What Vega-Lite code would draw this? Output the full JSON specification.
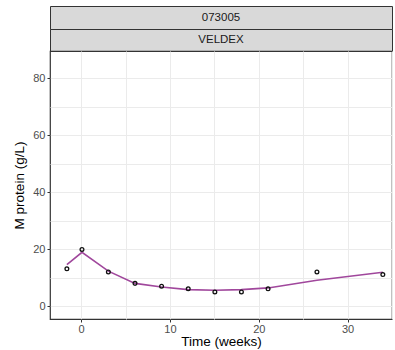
{
  "$schema": "https://vega.github.io/schema/vega-lite/v6.json",
  "padding": {"top": 5, "left": 12, "right": 1, "bottom": 0},
  "background": "white",
  "spacing": 0,
  "bounds": "flush",
  "config": {
    "font": "Liberation Sans",
    "concat": {"spacing": 0}
  },
  "datasets": {
    "strip": [{"id": "073005", "drug": "VELDEX"}],
    "obs": [
      {"time": -1.6, "mprotein": 13.1},
      {"time": 0.1, "mprotein": 19.9},
      {"time": 3.07, "mprotein": 12.0},
      {"time": 6.07, "mprotein": 8.0},
      {"time": 9.06, "mprotein": 7.0},
      {"time": 12.06, "mprotein": 6.1},
      {"time": 15.06, "mprotein": 5.0},
      {"time": 18.05, "mprotein": 5.0},
      {"time": 21.05, "mprotein": 6.1},
      {"time": 26.55, "mprotein": 12.0},
      {"time": 33.97, "mprotein": 11.1}
    ],
    "fit": [
      {"time": -1.6, "pred": 14.6},
      {"time": 0.1, "pred": 18.9},
      {"time": 3.07, "pred": 12.3},
      {"time": 6.07, "pred": 8.0},
      {"time": 9.06, "pred": 6.7},
      {"time": 12.06, "pred": 5.8},
      {"time": 15.06, "pred": 5.6},
      {"time": 18.05, "pred": 5.8},
      {"time": 21.05, "pred": 6.4},
      {"time": 26.55, "pred": 9.1},
      {"time": 33.97, "pred": 11.9}
    ]
  },
  "vconcat": [
    {
      "width": 342,
      "height": 23,
      "data": {"name": "strip"},
      "view": {"fill": "#d9d9d9", "stroke": "#333333", "strokeWidth": 1},
      "mark": {"type": "text", "fontSize": 11.5, "color": "#1a1a1a", "baseline": "middle"},
      "encoding": {
        "text": {"field": "id", "type": "nominal"}
      }
    },
    {
      "width": 342,
      "height": 22,
      "data": {"name": "strip"},
      "view": {"fill": "#d9d9d9", "stroke": "#333333", "strokeWidth": 1},
      "mark": {"type": "text", "fontSize": 11.5, "color": "#1a1a1a", "baseline": "middle"},
      "encoding": {
        "text": {"field": "drug", "type": "nominal"}
      }
    },
    {
      "width": 342,
      "height": 268,
      "view": {"stroke": "#333333", "strokeWidth": 1.2},
      "encoding": {
        "x": {
          "type": "quantitative",
          "scale": {"domain": [-3.5, 35], "nice": false, "zero": false},
          "axis": {
            "title": "Time (weeks)",
            "values": [0, 5, 10, 15, 20, 25, 30, 35],
            "labelExpr": "datum.value % 10 === 0 ? datum.label : ''",
            "domain": false,
            "grid": true,
            "gridColor": "#ebebeb",
            "gridWidth": 1,
            "tickColor": {"condition": {"test": "datum.value % 10 !== 0", "value": "transparent"}, "value": "#333333"},
            "tickSize": 3,
            "labelColor": "#4d4d4d",
            "labelFontSize": 11,
            "labelPadding": 1,
            "titleFontSize": 13.5,
            "titleFontWeight": "normal",
            "titleColor": "#000000",
            "titlePadding": 0
          }
        },
        "y": {
          "type": "quantitative",
          "scale": {"domain": [-4.5, 89.5], "nice": false, "zero": false},
          "axis": {
            "title": "M protein (g/L)",
            "values": [0, 10, 20, 30, 40, 50, 60, 70, 80],
            "labelExpr": "datum.value % 20 === 0 ? datum.label : ''",
            "domain": false,
            "grid": true,
            "gridColor": "#ebebeb",
            "gridWidth": 1,
            "tickColor": {"condition": {"test": "datum.value % 20 !== 0", "value": "transparent"}, "value": "#333333"},
            "tickSize": 3,
            "labelColor": "#4d4d4d",
            "labelFontSize": 11,
            "labelPadding": 2,
            "titleFontSize": 13.5,
            "titleFontWeight": "normal",
            "titleColor": "#000000",
            "titlePadding": 6
          }
        }
      },
      "layer": [
        {
          "data": {"name": "fit"},
          "mark": {"type": "line", "color": "#a0479c", "strokeWidth": 1.6},
          "encoding": {
            "x": {"field": "time", "type": "quantitative"},
            "y": {"field": "pred", "type": "quantitative"}
          }
        },
        {
          "data": {"name": "obs"},
          "mark": {"type": "point", "shape": "circle", "filled": false, "color": "#111111", "size": 14, "strokeWidth": 1.3, "opacity": 1},
          "encoding": {
            "x": {"field": "time", "type": "quantitative"},
            "y": {"field": "mprotein", "type": "quantitative"}
          }
        }
      ]
    }
  ]
}
